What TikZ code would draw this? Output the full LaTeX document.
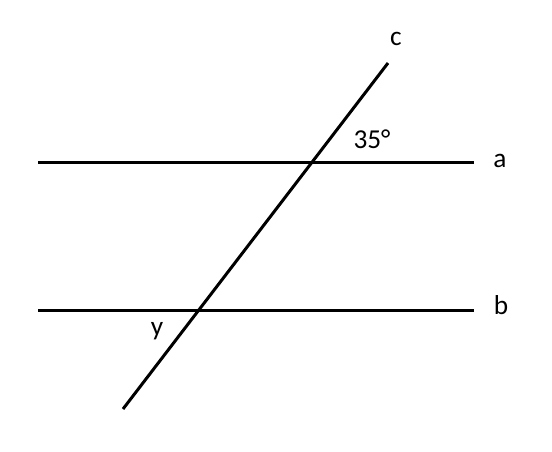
\documentclass[tikz,border=0pt]{standalone}
\usepackage{fontspec}
\setmainfont{Carlito}
\usepackage{tikz}
\usetikzlibrary{calc,positioning}
\tikzstyle{Line} = [line width=2.25pt, black]
\tikzstyle{Label} = [font=\fontsize{20.5}{24}\selectfont, inner sep=0pt, anchor=base]

\begin{document}
\begin{tikzpicture}[x=0.75pt, y=-0.75pt]
\useasboundingbox (0,0) rectangle (552,451);
\coordinate (a start) at (38,162.5);
\coordinate (a end) at (474,162.5);
\coordinate (b start) at (38,310.5);
\coordinate (b end) at (474,310.5);
\coordinate (c start) at (123,409);
\coordinate (c end) at (388,63);

\node (a label)[Label] at (500,167) {a};
\node (b label)[Label] at (501,314) {b};
\node (c label)[Label] at (396,45) {c};
\node (angle label)[Label] at (372,148) {35°};
\node (y label)[Label] at (157,335) {y};

\draw[Line](a start)--(a end);
\draw[Line](b start)--(b end);
\draw[Line](c start)--(c end);

\end{tikzpicture}
\end{document}
